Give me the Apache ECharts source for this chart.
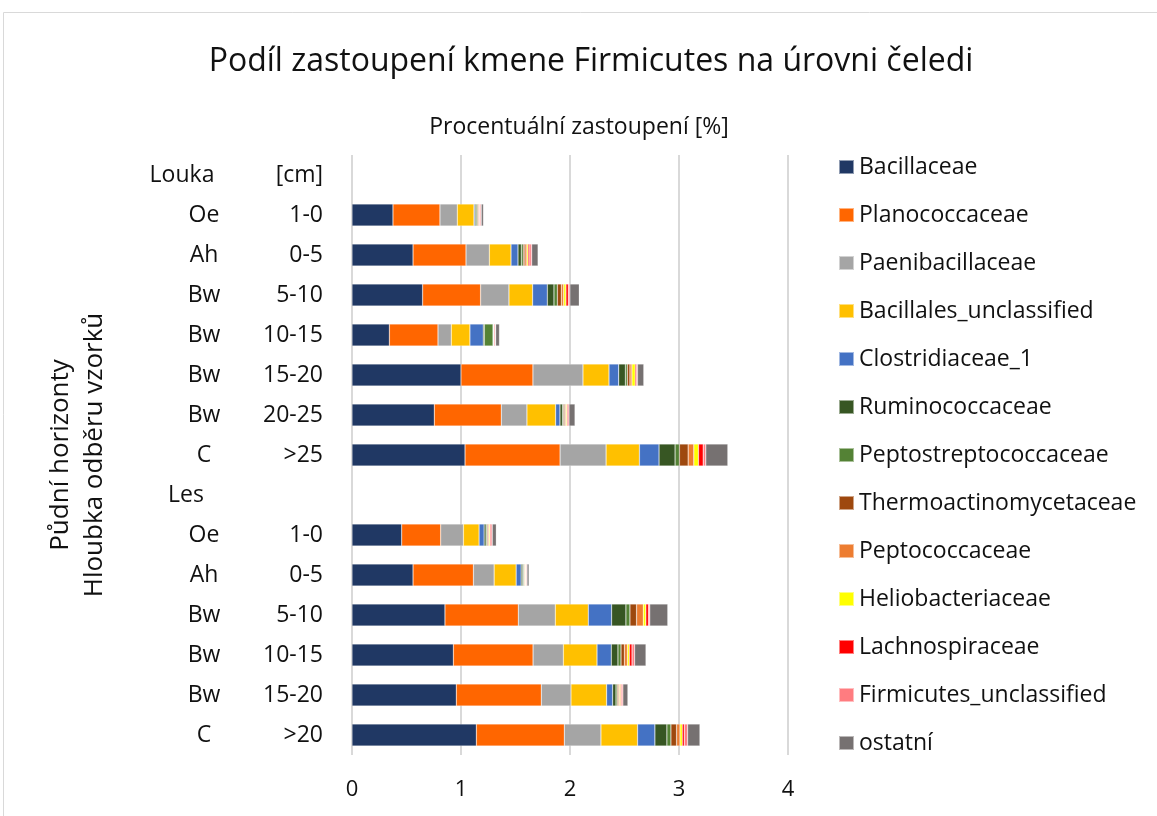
<!DOCTYPE html>
<html>
<head>
<meta charset="utf-8">
<script src="https://cdn.jsdelivr.net/npm/echarts@6/dist/echarts.min.js"></script>
<style>
  html, body { margin: 0; padding: 0; background: #fff; }
  #chart { width: 1157px; height: 816px; }
</style>
</head>
<body>
<div id="chart"></div>
<script>
// popisky řádků (kategorie osy Y)
var horizonty = ['Louka', 'Oe', 'Ah', 'Bw', 'Bw', 'Bw', 'Bw', 'C', 'Les', 'Oe', 'Ah', 'Bw', 'Bw', 'Bw', 'C'];
var hloubky = ['[cm]', '1-0', '0-5', '5-10', '10-15', '15-20', '20-25', '>25', '', '1-0', '0-5', '5-10', '10-15', '15-20', '>20'];

var xTicks = [0, 1, 2, 3, 4];

// hodnoty [%] pro jednotlivé čeledi (null = řádek s nadpisem Louka / Les)
var bacillaceae = [null, 0.376, 0.56, 0.648, 0.343, 1.0, 0.755, 1.037, null, 0.456, 0.56, 0.853, 0.93, 0.957, 1.141];
var planococcaceae = [null, 0.431, 0.486, 0.532, 0.446, 0.66, 0.615, 0.872, null, 0.358, 0.554, 0.673, 0.731, 0.78, 0.807];
var paenibacillaceae = [null, 0.159, 0.214, 0.26, 0.122, 0.459, 0.235, 0.422, null, 0.208, 0.19, 0.339, 0.278, 0.272, 0.336];
var bacillalesUncl = [null, 0.153, 0.199, 0.217, 0.171, 0.239, 0.263, 0.306, null, 0.144, 0.202, 0.303, 0.309, 0.327, 0.336];
var clostridiaceae1 = [null, 0.01, 0.064, 0.135, 0.122, 0.089, 0.04, 0.18, null, 0.046, 0.046, 0.214, 0.131, 0.055, 0.159];
var ruminococcaceae = [null, 0.01, 0.03, 0.061, 0.01, 0.061, 0.024, 0.147, null, 0.018, 0.015, 0.131, 0.061, 0.031, 0.11];
var peptostreptococcaceae = [null, 0.012, 0.018, 0.031, 0.08, 0.018, 0.008, 0.04, null, 0.009, 0.009, 0.037, 0.028, 0.012, 0.037];
var thermoactinomycetaceae = [null, 0.01, 0.015, 0.037, 0.005, 0.024, 0.012, 0.08, null, 0.009, 0.006, 0.061, 0.031, 0.012, 0.052];
var peptococcaceae = [null, 0.006, 0.018, 0.021, 0.003, 0.018, 0.009, 0.052, null, 0.009, 0.006, 0.061, 0.028, 0.009, 0.031];
var heliobacteriaceae = [null, 0.003, 0.012, 0.021, 0.003, 0.03, 0.009, 0.043, null, 0.009, 0.006, 0.024, 0.018, 0.009, 0.021];
var lachnospiraceae = [null, 0.006, 0.015, 0.021, 0.008, 0.012, 0.009, 0.043, null, 0.009, 0.006, 0.024, 0.024, 0.009, 0.018];
var firmicutesUncl = [null, 0.01, 0.018, 0.015, 0.005, 0.009, 0.012, 0.024, null, 0.012, 0.006, 0.012, 0.024, 0.012, 0.031];
var ostatni = [null, 0.02, 0.058, 0.086, 0.035, 0.058, 0.055, 0.202, null, 0.037, 0.018, 0.165, 0.104, 0.046, 0.113];

var nazvy = ['Bacillaceae', 'Planococcaceae', 'Paenibacillaceae', 'Bacillales_unclassified', 'Clostridiaceae_1',
    'Ruminococcaceae', 'Peptostreptococcaceae', 'Thermoactinomycetaceae', 'Peptococcaceae', 'Heliobacteriaceae',
    'Lachnospiraceae', 'Firmicutes_unclassified', 'ostatní'];
var hodnoty = [bacillaceae, planococcaceae, paenibacillaceae, bacillalesUncl, clostridiaceae1, ruminococcaceae,
    peptostreptococcaceae, thermoactinomycetaceae, peptococcaceae, heliobacteriaceae, lachnospiraceae,
    firmicutesUncl, ostatni];
var barvy = ['#203864', '#FF6600', '#A5A5A5', '#FFC000', '#4472C4', '#375623', '#548235', '#9E480E',
    '#ED7D31', '#FFFF00', '#FF0000', '#FF7C80', '#767171'];

var font = 'Open Sans';
var chart = echarts.init(document.getElementById('chart'));

var series = [];
for (var i = 0; i < nazvy.length; i++) {
    series.push({
        name: nazvy[i],
        type: 'bar',
        stack: 'celkem',
        barWidth: 22,
        data: hodnoty[i],
        itemStyle: {
            color: barvy[i],
            borderColor: 'rgba(255,255,255,0.5)',
            borderWidth: 0.5
        }
    });
}

var option = {
    animation: false,
    textStyle: { fontFamily: font },
    title: [
        {
            text: 'Podíl zastoupení kmene Firmicutes na úrovni čeledi',
            left: 586,
            top: 41,
            textAlign: 'center',
            textStyle: { fontFamily: font, fontSize: 32, fontWeight: 'normal', color: '#111' }
        },
        {
            text: 'Procentuální zastoupení [%]',
            left: 574,
            top: 111,
            textAlign: 'center',
            textStyle: { fontFamily: font, fontSize: 23, fontWeight: 'normal', color: '#111' }
        }
    ],
    graphic: [{
        type: 'rect',
        shape: { x: 3.5, y: 12.5, width: 1170, height: 820 },
        style: { fill: 'none', stroke: '#D9D9D9', lineWidth: 1 },
        silent: true
    }],
    legend: {
        orient: 'vertical',
        left: 838,
        top: 155,
        padding: 0,
        itemWidth: 15,
        itemHeight: 14,
        itemGap: 24,
        icon: 'rect',
        data: nazvy,
        textStyle: { fontFamily: font, fontSize: 23, lineHeight: 24, color: '#111' }
    },
    grid: {
        left: 352,
        right: 369,
        top: 155,
        bottom: 61
    },
    xAxis: {
        type: 'value',
        min: xTicks[0],
        max: xTicks[xTicks.length - 1],
        interval: 1,
        axisLine: { show: false },
        axisTick: { show: false },
        axisLabel: { fontFamily: font, fontSize: 22, color: '#111', margin: 24 },
        splitLine: { lineStyle: { color: '#D9D9D9', width: 2 } }
    },
    yAxis: [
        {
            type: 'category',
            data: hloubky,
            inverse: true,
            axisLine: { show: false },
            axisTick: { show: false },
            axisLabel: { fontFamily: font, fontSize: 23, color: '#111', margin: 29 }
        },
        {
            type: 'category',
            data: horizonty,
            inverse: true,
            position: 'left',
            axisLine: { show: false },
            axisTick: { show: false },
            name: 'Půdní horizonty\nHloubka odběru vzorků',
            nameLocation: 'middle',
            nameGap: 240,
            nameTextStyle: { fontFamily: font, fontSize: 26, color: '#111', lineHeight: 34, align: 'center' },
            axisLabel: {
                fontFamily: font,
                fontSize: 23,
                color: '#111',
                margin: 148,
                align: 'center',
                formatter: function (v) {
                    if (v === 'Louka') return '{l|' + v + '}';
                    if (v === 'Les') return '{s|' + v + '}';
                    return v;
                },
                rich: {
                    l: { fontFamily: font, fontSize: 23, color: '#111', padding: [0, 44, 0, 0] },
                    s: { fontFamily: font, fontSize: 23, color: '#111', padding: [0, 36, 0, 0] }
                }
            }
        }
    ],
    series: series
};

chart.setOption(option);
</script>
</body>
</html>
